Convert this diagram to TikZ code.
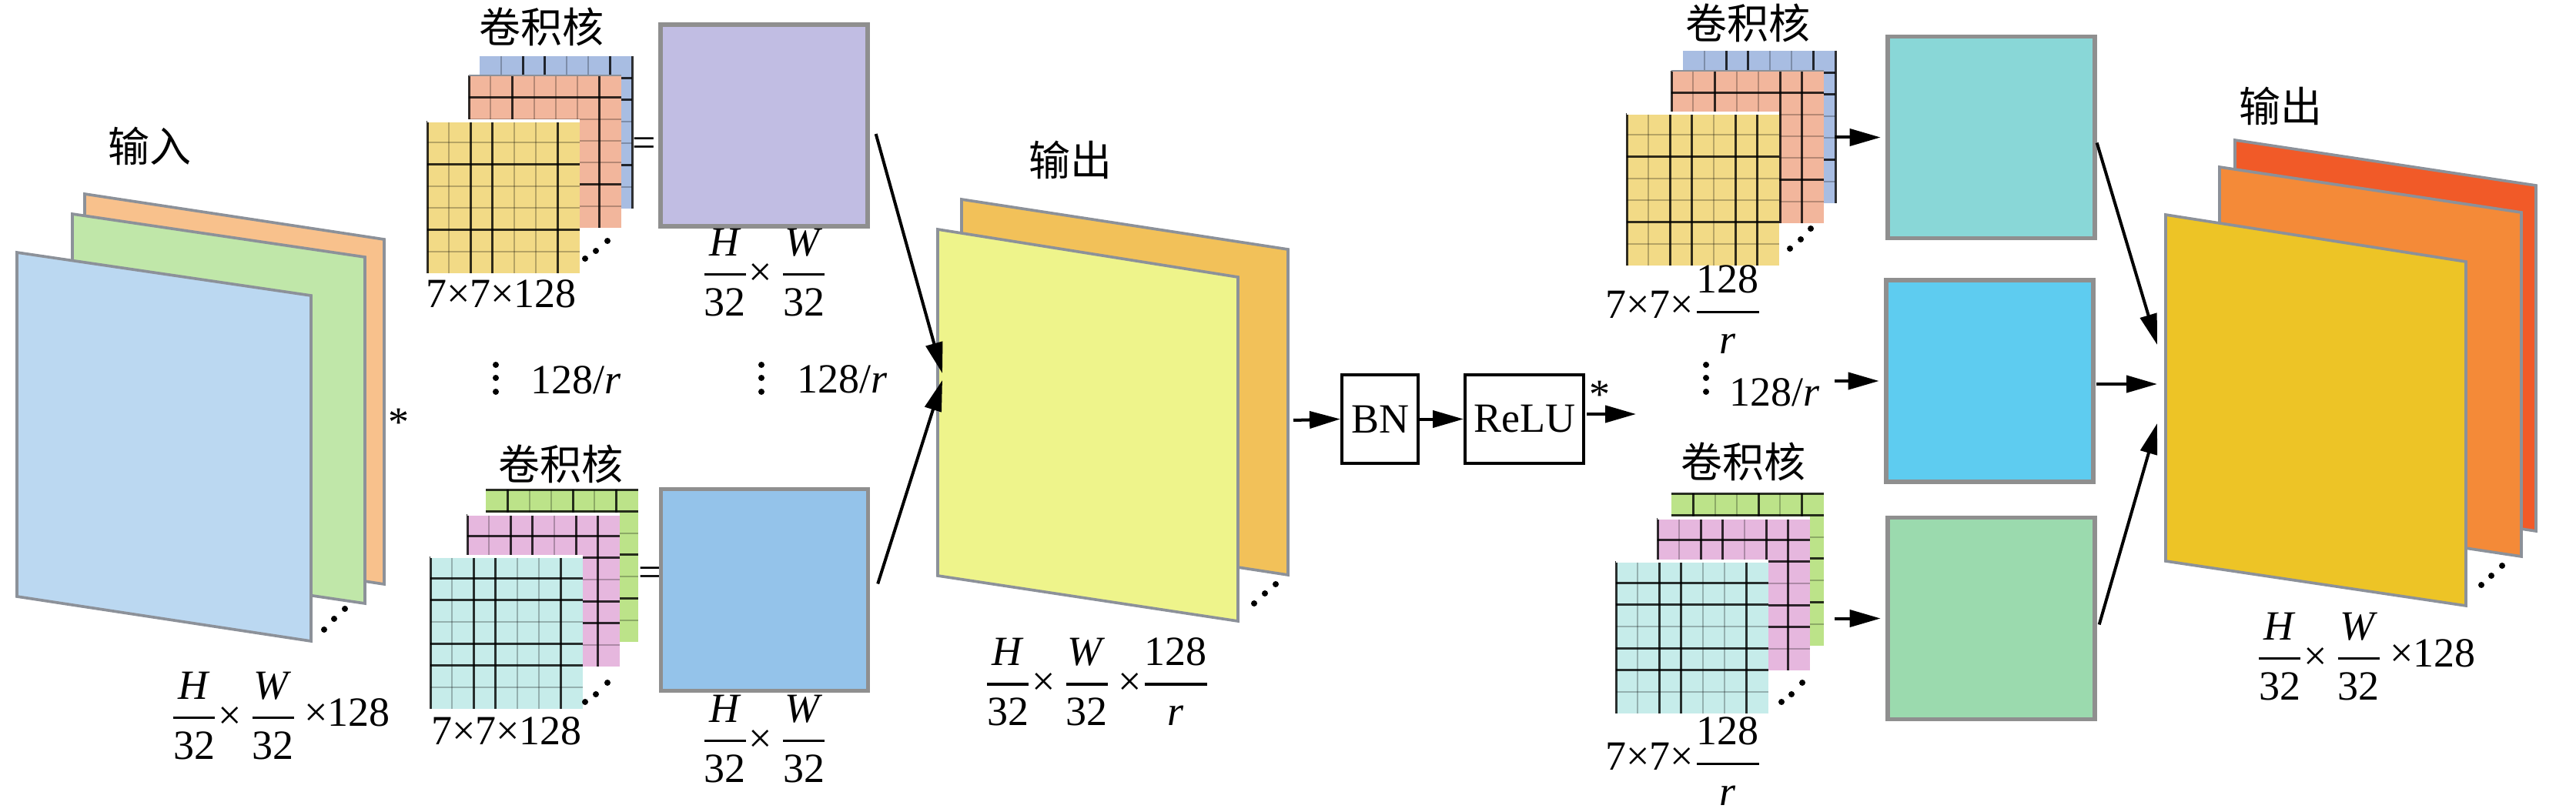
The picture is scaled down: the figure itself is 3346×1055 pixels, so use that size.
\documentclass[tikz,border=0pt]{standalone}
\usepackage{fontspec}
\usepackage{amsmath}
\setmainfont{Liberation Serif}
\newfontfamily\cjk{Noto Sans CJK SC}
\usetikzlibrary{arrows.meta,calc}

\definecolor{inBlue}{HTML}{BBD8F1}
\definecolor{inGreen}{HTML}{C0E7A9}
\definecolor{inOrange}{HTML}{F8C18C}
\definecolor{kYellow}{HTML}{F2DA86}
\definecolor{kSalmon}{HTML}{F2B69C}
\definecolor{kBlue}{HTML}{A8BDE2}
\definecolor{kGreen}{HTML}{BCE389}
\definecolor{kPink}{HTML}{E6B7DE}
\definecolor{kCyan}{HTML}{C6ECEA}
\definecolor{bPurple}{HTML}{C1BDE3}
\definecolor{bBlue}{HTML}{94C3EA}
\definecolor{midFront}{HTML}{EEF48B}
\definecolor{midBack}{HTML}{F2C159}
\definecolor{bTeal}{HTML}{89D7D7}
\definecolor{bSky}{HTML}{5ECCF0}
\definecolor{bGreen}{HTML}{9BDAAE}
\definecolor{outFront}{HTML}{EDC426}
\definecolor{outMid}{HTML}{F48A38}
\definecolor{outBack}{HTML}{F15A28}
\definecolor{panelGrey}{HTML}{8C9199}
\definecolor{boxGrey}{HTML}{8F8F8F}

\newcommand\fs{\fontsize{16.2pt}{19pt}\selectfont}
\newcommand\fr[2]{\genfrac{}{}{1pt}{0}{\mbox{#1}}{\mbox{#2}}}

\tikzset{
  panel/.style={draw=panelGrey, line width=1.1pt, line join=miter},
  fmap/.style={draw=boxGrey, line width=1.6pt, minimum width=80.7pt, minimum height=78.6pt},
  opbox/.style={draw=black, line width=1.2pt, minimum height=34.5pt},
  arr/.style={line width=1.2pt, -{Triangle[length=12pt,width=6.6pt]}},
  dk/.style={line width=0.9pt, draw=black, draw opacity=0.8},
  lt/.style={line width=0.6pt, draw=black, draw opacity=0.25},
}

% kernel: x0, y0, fill, dark V, light V, dark H, light H
\newcommand\kgrid[7]{%
  \fill[#3] (#1,#2) rectangle ++(198,198);
  \foreach \i in {#5} \draw[lt] ({#1+\i*28.29},#2) -- ++(0,198);
  \foreach \i in {#7} \draw[lt] (#1,{#2+\i*28.29}) -- ++(198,0);
  \foreach \i in {#4} \draw[dk] ({#1+\i*28.29},#2) -- ++(0,198);
  \foreach \i in {#6} \draw[dk] (#1,{#2+\i*28.29}) -- ++(198,0);
}
\newcommand\tdots[6]{%
  \fill (#1,#2) circle[radius=1.2pt];
  \fill (#3,#4) circle[radius=1.2pt];
  \fill (#5,#6) circle[radius=1.2pt];
}

\begin{document}
\begin{tikzpicture}[x=0.3pt,y=-0.3pt, font=\fs, every node/.style={inner sep=0pt}]
\useasboundingbox (0,0) rectangle (3346,1055);

% ---------- input stack ----------
\filldraw[panel, fill=inOrange] (110,252) -- (499,311) -- (499,759) -- (110,700) -- cycle;
\filldraw[panel, fill=inGreen] (94,278) -- (474,334) -- (474,784) -- (94,728) -- cycle;
\filldraw[panel, fill=inBlue] (22,328) -- (404,384) -- (404,833) -- (22,775) -- cycle;
\tdots{421}{818}{434}{804}{448}{791}
\node (tIn) at (194,190) {\cjk 输入};
\node[anchor=base] (astA) at (518,566) {*};
\node (lIn) at (364,930) {$\fr{\textit{H}}{32}\mbox{×}\,\fr{\textit{W}}{32}\,\raisebox{1.2pt}{×128}$};

% ---------- top-left kernels ----------
\kgrid{623}{73}{kBlue}{2,3,6,7}{1,4,5}{1,2,5}{3,4,6}
\kgrid{609}{98}{kSalmon}{0,2,6}{1,3,4,5}{1,5}{2,3,4,6}
\draw[panelGrey, line width=0.8pt] (609,98) -- ++(198,0);
\kgrid{555}{157}{kYellow}{0,2,3,6}{1,4,5}{2,5}{1,3,4,6}
\draw[white, line width=1pt] (555,157) -- ++(198,0);
\tdots{760}{336}{774}{326}{789}{313}
\node (kTL) at (703,35) {\cjk 卷积核};
\node (sTL) at (651,382) {7×7×128};
\node (eqA) at (837,191) {=};

% ---------- bottom-left kernels ----------
\kgrid{631}{636}{kGreen}{1,4,6}{2,3,5}{0,1,3,5}{2,4,6}
\kgrid{607}{668}{kPink}{0,2,3,5,6}{1,4}{1,2,4,5}{3,6}
\draw[white, line width=1pt] (607,668) -- ++(198,0);
\kgrid{559}{723}{kCyan}{0,2,3,6}{1,4,5}{1,2,4,5}{3,6}
\draw[white, line width=1pt] (559,723) -- ++(198,0);
\tdots{760}{912}{774}{902}{789}{887}
\node (kBL) at (728,603) {\cjk 卷积核};
\node (sBL) at (658,950) {7×7×128};
\node (eqB) at (845,749) {=};

% vertical dots and 128/r (left)
\fill (644,474) circle[radius=1.2pt]; \fill (644,491) circle[radius=1.2pt]; \fill (644,509) circle[radius=1.2pt];
\node (rA) at (748,494) {128/\textit{r}};
\fill (989,474) circle[radius=1.2pt]; \fill (989,491) circle[radius=1.2pt]; \fill (989,509) circle[radius=1.2pt];
\node (rB) at (1094,493) {128/\textit{r}};

% ---------- feature boxes ----------
\node[fmap, fill=bPurple] (pb) at (992.5,163) {};
\node[fmap, fill=bBlue] (bb) at (993,766.5) {};
\node (lPb) at (993,354) {$\fr{\textit{H}}{32}\mbox{×}\,\fr{\textit{W}}{32}$};
\node (lBb) at (993,960) {$\fr{\textit{H}}{32}\mbox{×}\,\fr{\textit{W}}{32}$};

% ---------- middle output ----------
\filldraw[panel, fill=midBack] (1249,259) -- (1673,324) -- (1673,747) -- (1249,682) -- cycle;
\filldraw[panel, fill=midFront] (1218,298) -- (1608,360) -- (1608,807) -- (1218,748) -- cycle;
\tdots{1629}{784}{1643}{771}{1657}{759}
\node (tMid) at (1390,208) {\cjk 输出};
\node (lMid) at (1425,886) {$\fr{\textit{H}}{32}\mbox{×}\,\fr{\textit{W}}{32}\,\mbox{×}\fr{128}{\textit{r}}$};
\coordinate (m1) at (1224,485);
\coordinate (m2) at (1224,494);
\draw[arr] ($(pb.east)+(8,11)$) -- (m1);
\draw[arr] ($(bb.east)+(10,-8)$) -- (m2);

% ---------- BN / ReLU ----------
\node[opbox, minimum width=29.7pt] (bn) at (1792.5,544.5) {BN};
\node[opbox, minimum width=46.2pt] (relu) at (1980,544.5) {ReLU};
\coordinate (mo) at (1680,546);
\draw[arr] (mo) -- (bn.west);
\draw[arr] (bn.east) -- (relu.west);
\coordinate (ro1) at (2061,538);
\coordinate (ro2) at (2125,538);
\draw[arr] (ro1) -- (ro2);
\node[anchor=base] (astB) at (2078,530) {*};

% ---------- top-right kernels ----------
\kgrid{2186}{66}{kBlue}{2,3,6,7}{1,4,5}{1,2,5}{3,4,6}
\kgrid{2171}{92}{kSalmon}{0,2,5,6}{1,3,4}{1,5}{2,3,4,6}
\draw[panelGrey, line width=0.8pt] (2171,92) -- ++(198,0);
\kgrid{2113}{147}{kYellow}{0,2,3,5,6}{1,4}{2,5}{1,3,4,6}
\draw[white, line width=1pt] (2113,147) -- ++(198,0);
\tdots{2325}{323}{2339}{311}{2352}{297}
\node (kTR) at (2270,30) {\cjk 卷积核};
\node (sTR) at (2187,402) {$\raisebox{2pt}{7×7×}\fr{128}{\textit{r}}$};

% ---------- bottom-right kernels ----------
\kgrid{2171}{641}{kGreen}{1,4,6}{2,3,5}{0,1,3,5}{2,4,6}
\kgrid{2153}{673}{kPink}{0,2,3,5,6}{1,4}{1,2,4,5}{3,6}
\draw[white, line width=1pt] (2153,673) -- ++(198,0);
\kgrid{2099}{729}{kCyan}{0,2,3,6}{1,4,5}{1,2,4,5}{3,6}
\draw[white, line width=1pt] (2099,729) -- ++(198,0);
\tdots{2314}{912}{2327}{902}{2341}{887}
\node (kBR) at (2264,600) {\cjk 卷积核};
\node (sBR) at (2187,989) {$\raisebox{2pt}{7×7×}\fr{128}{\textit{r}}$};

\fill (2216,474) circle[radius=1.2pt]; \fill (2216,491) circle[radius=1.2pt]; \fill (2216,509) circle[radius=1.2pt];
\node (rC) at (2305,510) {128/\textit{r}};

% ---------- right boxes ----------
\node[fmap, fill=bTeal] (tb) at (2586.5,178.5) {};
\node[fmap, fill=bSky] (sb) at (2584.5,495) {};
\node[fmap, fill=bGreen] (gb) at (2586.5,803.5) {};
\coordinate (ka) at (2383,178.5);
\coordinate (kb) at (2383,495);
\coordinate (kc) at (2383,803.5);
\draw[arr, shorten >=2pt] (ka) -- (tb.west);
\draw[arr, shorten >=2pt] (kb) -- (sb.west);
\draw[arr, shorten >=2pt] (kc) -- (gb.west);

% ---------- right output ----------
\filldraw[panel, fill=outBack] (2903,182) -- (3294,241) -- (3294,690) -- (2903,631) -- cycle;
\filldraw[panel, fill=outMid] (2883,217) -- (3275,276) -- (3275,723) -- (2883,664) -- cycle;
\filldraw[panel, fill=outFront] (2813,279) -- (3203,340) -- (3203,787) -- (2813,729) -- cycle;
\tdots{3223}{760}{3236}{748}{3250}{735}
\node (tOut) at (2962,138) {\cjk 输出};
\node (lOut) at (3073,853) {$\fr{\textit{H}}{32}\mbox{×}\,\fr{\textit{W}}{32}\,\raisebox{1.2pt}{×128}$};
\coordinate (o1) at (2802,448);
\coordinate (o2) at (2802,499);
\coordinate (o3) at (2802,550);
\draw[arr] ($(tb.east)+(0,7)$) -- (o1);
\draw[arr] ($(sb.east)+(1,4)$) -- (o2);
\draw[arr] ($(gb.east)+(3,8)$) -- (o3);

\end{tikzpicture}
\end{document}
